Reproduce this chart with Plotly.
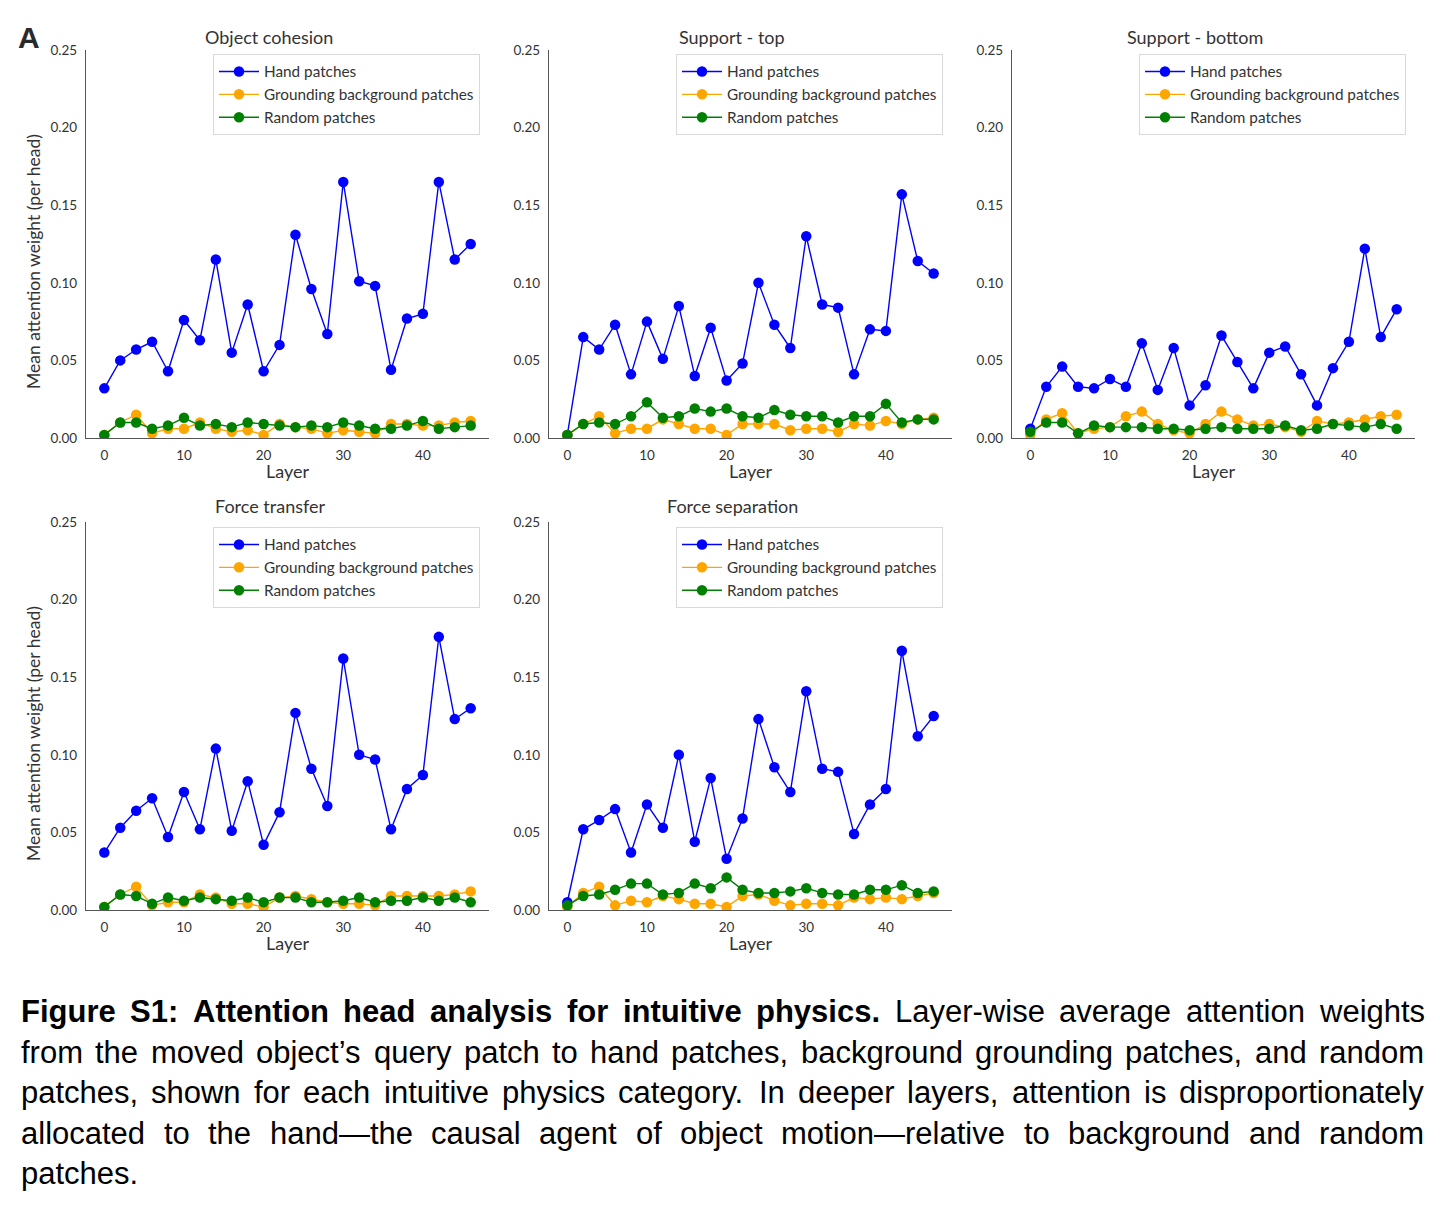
import plotly.graph_objects as go

layers = list(range(0, 48, 2))

titles = ["Object cohesion", "Support - top", "Support - bottom", "Force transfer", "Force separation"]
series_names = ["Hand patches", "Grounding background patches", "Random patches"]

hand_cohesion = [0.032, 0.050, 0.057, 0.062, 0.043, 0.076, 0.063, 0.115, 0.055, 0.086, 0.043, 0.060,
                 0.131, 0.096, 0.067, 0.165, 0.101, 0.098, 0.044, 0.077, 0.080, 0.165, 0.115, 0.125]
ground_cohesion = [0.002, 0.010, 0.015, 0.003, 0.006, 0.006, 0.010, 0.006, 0.004, 0.005, 0.002, 0.009,
                   0.007, 0.006, 0.003, 0.005, 0.004, 0.003, 0.009, 0.009, 0.008, 0.008, 0.010, 0.011]
random_cohesion = [0.002, 0.010, 0.010, 0.006, 0.008, 0.013, 0.008, 0.009, 0.007, 0.010, 0.009, 0.008,
                   0.007, 0.008, 0.007, 0.010, 0.008, 0.006, 0.006, 0.008, 0.011, 0.006, 0.007, 0.008]

hand_top = [0.002, 0.065, 0.057, 0.073, 0.041, 0.075, 0.051, 0.085, 0.040, 0.071, 0.037, 0.048,
            0.100, 0.073, 0.058, 0.130, 0.086, 0.084, 0.041, 0.070, 0.069, 0.157, 0.114, 0.106]
ground_top = [0.002, 0.009, 0.014, 0.003, 0.006, 0.006, 0.012, 0.009, 0.006, 0.006, 0.002, 0.009,
              0.009, 0.009, 0.005, 0.006, 0.006, 0.004, 0.009, 0.008, 0.011, 0.009, 0.012, 0.013]
random_top = [0.002, 0.009, 0.010, 0.009, 0.014, 0.023, 0.013, 0.014, 0.019, 0.017, 0.019, 0.014,
              0.013, 0.018, 0.015, 0.014, 0.014, 0.010, 0.014, 0.014, 0.022, 0.010, 0.012, 0.012]

hand_bottom = [0.006, 0.033, 0.046, 0.033, 0.032, 0.038, 0.033, 0.061, 0.031, 0.058, 0.021, 0.034,
               0.066, 0.049, 0.032, 0.055, 0.059, 0.041, 0.021, 0.045, 0.062, 0.122, 0.065, 0.083]
ground_bottom = [0.002, 0.012, 0.016, 0.003, 0.006, 0.007, 0.014, 0.017, 0.009, 0.005, 0.003, 0.009,
                 0.017, 0.012, 0.008, 0.009, 0.007, 0.004, 0.011, 0.009, 0.010, 0.012, 0.014, 0.015]
random_bottom = [0.004, 0.010, 0.010, 0.003, 0.008, 0.007, 0.007, 0.007, 0.006, 0.006, 0.005, 0.006,
                 0.007, 0.006, 0.006, 0.006, 0.008, 0.005, 0.006, 0.009, 0.008, 0.007, 0.009, 0.006]

hand_transfer = [0.037, 0.053, 0.064, 0.072, 0.047, 0.076, 0.052, 0.104, 0.051, 0.083, 0.042, 0.063,
                 0.127, 0.091, 0.067, 0.162, 0.100, 0.097, 0.052, 0.078, 0.087, 0.176, 0.123, 0.130]
ground_transfer = [0.002, 0.010, 0.015, 0.003, 0.005, 0.005, 0.010, 0.008, 0.004, 0.004, 0.002, 0.008,
                   0.009, 0.007, 0.005, 0.004, 0.004, 0.003, 0.009, 0.009, 0.009, 0.009, 0.010, 0.012]
random_transfer = [0.002, 0.010, 0.009, 0.004, 0.008, 0.006, 0.008, 0.007, 0.006, 0.008, 0.005, 0.008,
                   0.008, 0.005, 0.005, 0.006, 0.008, 0.005, 0.006, 0.006, 0.008, 0.006, 0.008, 0.005]

hand_separation = [0.005, 0.052, 0.058, 0.065, 0.037, 0.068, 0.053, 0.100, 0.044, 0.085, 0.033, 0.059,
                   0.123, 0.092, 0.076, 0.141, 0.091, 0.089, 0.049, 0.068, 0.078, 0.167, 0.112, 0.125]
ground_separation = [0.002, 0.011, 0.015, 0.003, 0.006, 0.005, 0.009, 0.007, 0.004, 0.004, 0.002, 0.009,
                     0.010, 0.006, 0.003, 0.004, 0.004, 0.003, 0.008, 0.007, 0.008, 0.007, 0.009, 0.011]
random_separation = [0.003, 0.009, 0.010, 0.013, 0.017, 0.017, 0.010, 0.011, 0.017, 0.014, 0.021, 0.013,
                     0.011, 0.011, 0.012, 0.014, 0.011, 0.010, 0.010, 0.013, 0.013, 0.016, 0.011, 0.012]

panels = [
    (hand_cohesion, ground_cohesion, random_cohesion),
    (hand_top, ground_top, random_top),
    (hand_bottom, ground_bottom, random_bottom),
    (hand_transfer, ground_transfer, random_transfer),
    (hand_separation, ground_separation, random_separation),
]

colors = ["#0000ff", "#ffa500", "#008000"]

W, H = 1440, 1208
FONT = "Lato"
TXT = "#333333"

boxes = [(86, 489, 50, 438), (549, 952, 50, 438), (1012, 1415, 50, 438),
         (86, 489, 522, 910), (549, 952, 522, 910)]
legend_pos = [(213, 54), (676, 54), (1139, 54), (213, 527), (676, 527)]
title_pos = [(269, 37), (732, 37), (1195, 37), (270, 506), (732, 506)]

fig = go.Figure()
layout = dict(width=W, height=H,
              margin=dict(l=0, r=0, t=0, b=0, pad=0, autoexpand=False),
              paper_bgcolor="white", plot_bgcolor="white",
              font=dict(family=FONT, color=TXT, size=14))
annotations = []

for i, (vals, box, lp, tp, title) in enumerate(zip(panels, boxes, legend_pos, title_pos, titles)):
    n = "" if i == 0 else str(i + 1)
    leg = "legend" + n
    for name, v, c in zip(series_names, vals, colors):
        fig.add_trace(go.Scatter(
            x=layers, y=v, mode="lines+markers", name=name,
            line=dict(color=c, width=1.4),
            marker=dict(color=c, size=10.5),
            xaxis="x" + n, yaxis="y" + n, legend=leg, showlegend=True,
        ))
    l, r, t, b = box
    layout["xaxis" + n] = dict(
        domain=[l / W, r / W], anchor="y" + n, range=[-2.3, 48.3],
        tickvals=[0, 10, 20, 30, 40], showgrid=False, zeroline=False,
        showline=True, linecolor="#555555", linewidth=1.2, ticks="",
        tickfont=dict(family=FONT, size=13.5, color=TXT), ticklabelstandoff=5,
        automargin=False,
    )
    layout["yaxis" + n] = dict(
        domain=[1 - b / H, 1 - t / H], anchor="x" + n, range=[0, 0.25],
        tickvals=[0, 0.05, 0.10, 0.15, 0.20, 0.25], tickformat=".2f",
        showgrid=False, zeroline=False, showline=True, linecolor="#555555",
        linewidth=1.2, ticks="", tickfont=dict(family=FONT, size=13.5, color=TXT),
        ticklabelstandoff=5, automargin=False,
    )
    layout[leg] = dict(
        x=lp[0] / W, y=1 - lp[1] / H, xanchor="left", yanchor="top",
        bgcolor="white", bordercolor="#d9d9d9", borderwidth=1,
        font=dict(family=FONT, size=15.3, color=TXT), tracegroupgap=0,
        itemwidth=40,
    )
    annotations.append(dict(x=tp[0] / W, y=1 - tp[1] / H, xref="paper", yref="paper",
                            text=title, showarrow=False, xanchor="center", yanchor="middle",
                            font=dict(family=FONT, size=18, color=TXT)))
    annotations.append(dict(x=((l + r) / 2) / W, y=1 - (b + 33) / H, xref="paper", yref="paper",
                            text="Layer", showarrow=False, xanchor="center", yanchor="middle",
                            font=dict(family=FONT, size=18, color=TXT)))
    if i in (0, 3):
        annotations.append(dict(x=33 / W, y=1 - ((t + b) / 2 + 18) / H, xref="paper", yref="paper",
                                text="Mean attention weight (per head)", showarrow=False,
                                textangle=-90, xanchor="center", yanchor="middle",
                                font=dict(family=FONT, size=17.5, color=TXT)))

annotations.append(dict(x=29 / W, y=1 - 37 / H, xref="paper", yref="paper", text="<b>A</b>",
                        showarrow=False, xanchor="center", yanchor="middle",
                        font=dict(family="Liberation Sans Narrow, Liberation Sans", size=30,
                                  color="#2a2a2a")))

# ---- caption, justified like the reference (word by word) ----
REG = {' ': 278, ',': 278, '.': 278, '-': 333, ':': 278, '\u2019': 222, '\u2014': 1000,
       'a': 556, 'b': 556, 'c': 500, 'd': 556, 'e': 556, 'f': 278, 'g': 556, 'h': 556, 'i': 222,
       'j': 222, 'k': 500, 'l': 222, 'm': 833, 'n': 556, 'o': 556, 'p': 556, 'q': 556, 'r': 333,
       's': 500, 't': 278, 'u': 556, 'v': 500, 'w': 722, 'x': 500, 'y': 500, 'z': 500,
       'A': 667, 'F': 611, 'I': 278, 'L': 556, 'S': 667, '1': 556}
BOLD = {' ': 278, ',': 278, '.': 278, ':': 333, '1': 556, 'A': 722, 'F': 611, 'S': 667,
        'a': 556, 'c': 556, 'd': 611, 'e': 556, 'g': 611, 'h': 611, 'i': 278, 'l': 278,
        'n': 611, 'o': 611, 'p': 611, 'r': 389, 's': 556, 't': 333, 'u': 611, 'v': 556,
        'y': 556, 'f': 333}

caption_lines = [
    [("Figure S1: Attention head analysis for intuitive physics.", True),
     ("Layer-wise average attention weights", False)],
    [("from the moved object\u2019s query patch to hand patches, background grounding patches, and random", False)],
    [("patches, shown for each intuitive physics category. In deeper layers, attention is disproportionately", False)],
    [("allocated to the hand\u2014the causal agent of object motion\u2014relative to background and random", False)],
    [("patches.", False)],
]
caption_y = [1012, 1052, 1092, 1133, 1173]
X0, X1 = 20, 1423


def em(word, bold):
    tab = BOLD if bold else REG
    return sum(tab.get(ch, 556) for ch in word) / 1000.0


line_words = []
for segs in caption_lines:
    words = []
    for text, bold in segs:
        for w in text.split(" "):
            words.append((w, bold))
    line_words.append(words)

natural = [sum(em(w, b) for w, b in ws) + 0.278 * (len(ws) - 1) for ws in line_words]
FS = min(31.0, (X1 - X0) / max(natural) * 0.995)

for k, (ws, yy) in enumerate(zip(line_words, caption_y)):
    widths = [em(w, b) * FS for w, b in ws]
    last = k == len(line_words) - 1
    if last or len(ws) == 1:
        gap = 0.278 * FS
    else:
        gap = ((X1 - X0) - sum(widths)) / (len(ws) - 1)
    x = X0
    for (w, b), wd in zip(ws, widths):
        annotations.append(dict(
            x=x / W, y=1 - yy / H, xref="paper", yref="paper",
            text=("<b>%s</b>" % w) if b else w, showarrow=False,
            xanchor="left", yanchor="middle", borderpad=0,
            font=dict(family="Liberation Sans", size=FS, color="black")))
        x += wd + gap

layout["annotations"] = annotations
fig.update_layout(**layout)
fig.write_html("out.html")
